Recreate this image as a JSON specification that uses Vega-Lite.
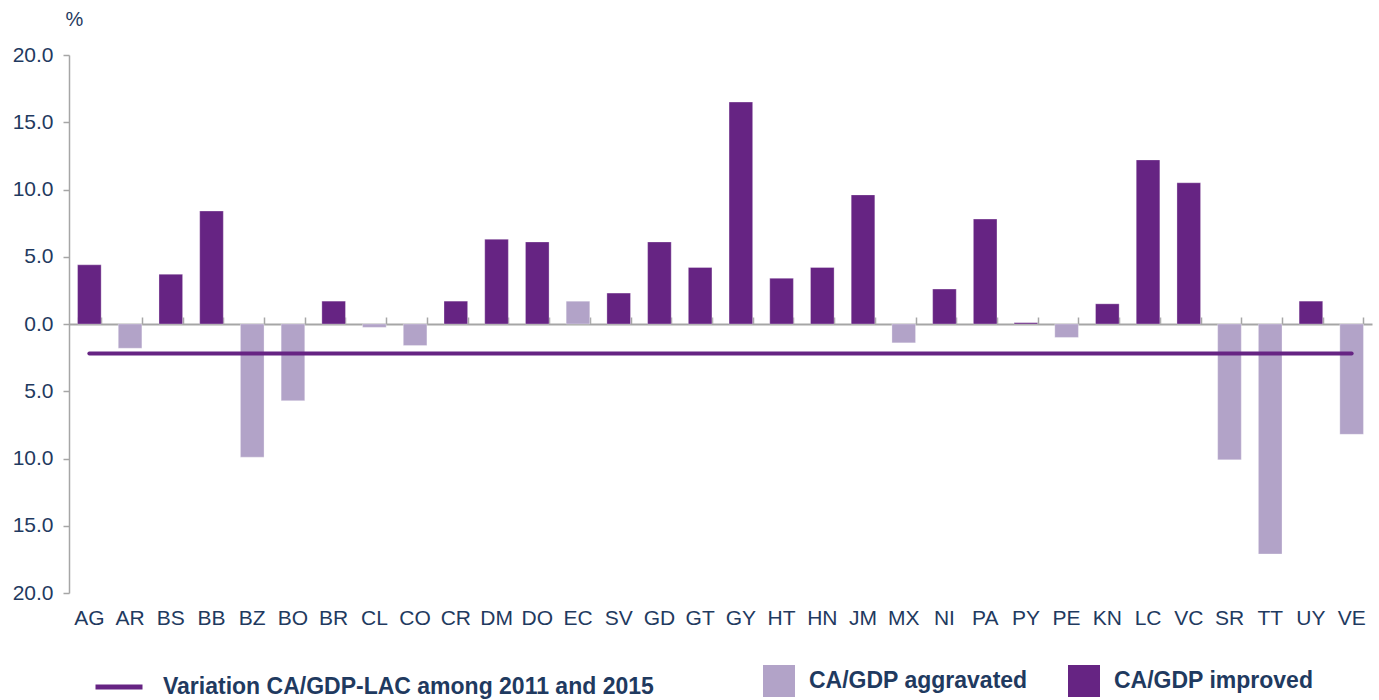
{
  "$schema": "https://vega.github.io/schema/vega-lite/v6.json",
  "autosize": {"type": "none"},
  "padding": {"left": 69, "top": 55, "right": 7, "bottom": 107},
  "width": 1303,
  "height": 538,
  "background": "white",
  "config": {
    "view": {"stroke": null},
    "font": "Liberation Sans",
    "axis": {"labelFont": "Liberation Sans", "labelColor": "#1f3a60", "grid": false}
  },
  "data": {
    "values": [
      {"country": "AG", "value": 4.4, "status": "CA/GDP improved", "lac": -2.2},
      {"country": "AR", "value": -1.8, "status": "CA/GDP aggravated", "lac": -2.2},
      {"country": "BS", "value": 3.7, "status": "CA/GDP improved", "lac": -2.2},
      {"country": "BB", "value": 8.4, "status": "CA/GDP improved", "lac": -2.2},
      {"country": "BZ", "value": -9.9, "status": "CA/GDP aggravated", "lac": -2.2},
      {"country": "BO", "value": -5.7, "status": "CA/GDP aggravated", "lac": -2.2},
      {"country": "BR", "value": 1.7, "status": "CA/GDP improved", "lac": -2.2},
      {"country": "CL", "value": -0.25, "status": "CA/GDP aggravated", "lac": -2.2},
      {"country": "CO", "value": -1.6, "status": "CA/GDP aggravated", "lac": -2.2},
      {"country": "CR", "value": 1.7, "status": "CA/GDP improved", "lac": -2.2},
      {"country": "DM", "value": 6.3, "status": "CA/GDP improved", "lac": -2.2},
      {"country": "DO", "value": 6.1, "status": "CA/GDP improved", "lac": -2.2},
      {"country": "EC", "value": 1.7, "status": "CA/GDP aggravated", "lac": -2.2},
      {"country": "SV", "value": 2.3, "status": "CA/GDP improved", "lac": -2.2},
      {"country": "GD", "value": 6.1, "status": "CA/GDP improved", "lac": -2.2},
      {"country": "GT", "value": 4.2, "status": "CA/GDP improved", "lac": -2.2},
      {"country": "GY", "value": 16.5, "status": "CA/GDP improved", "lac": -2.2},
      {"country": "HT", "value": 3.4, "status": "CA/GDP improved", "lac": -2.2},
      {"country": "HN", "value": 4.2, "status": "CA/GDP improved", "lac": -2.2},
      {"country": "JM", "value": 9.6, "status": "CA/GDP improved", "lac": -2.2},
      {"country": "MX", "value": -1.4, "status": "CA/GDP aggravated", "lac": -2.2},
      {"country": "NI", "value": 2.6, "status": "CA/GDP improved", "lac": -2.2},
      {"country": "PA", "value": 7.8, "status": "CA/GDP improved", "lac": -2.2},
      {"country": "PY", "value": 0.1, "status": "CA/GDP improved", "lac": -2.2},
      {"country": "PE", "value": -1.0, "status": "CA/GDP aggravated", "lac": -2.2},
      {"country": "KN", "value": 1.5, "status": "CA/GDP improved", "lac": -2.2},
      {"country": "LC", "value": 12.2, "status": "CA/GDP improved", "lac": -2.2},
      {"country": "VC", "value": 10.5, "status": "CA/GDP improved", "lac": -2.2},
      {"country": "SR", "value": -10.1, "status": "CA/GDP aggravated", "lac": -2.2},
      {"country": "TT", "value": -17.1, "status": "CA/GDP aggravated", "lac": -2.2},
      {"country": "UY", "value": 1.7, "status": "CA/GDP improved", "lac": -2.2},
      {"country": "VE", "value": -8.2, "status": "CA/GDP aggravated", "lac": -2.2}
    ]
  },
  "resolve": {"axis": {"x": "independent"}},
  "layer": [
    {
      "mark": {"type": "bar", "stroke": "#ffffff", "strokeWidth": 0.5, "strokeOpacity": 0.6},
      "encoding": {
        "x": {
          "field": "country", "type": "nominal", "sort": null,
          "scale": {"paddingInner": 0.42, "paddingOuter": 0.21},
          "axis": {"title": null, "domain": false, "ticks": false, "labelAngle": 0, "labelFontSize": 21, "labelPadding": 14}
        },
        "y": {
          "field": "value", "type": "quantitative",
          "scale": {"domain": [-20, 20], "nice": false, "zero": false},
          "axis": {
            "values": [-20, -15, -10, -5, 0, 5, 10, 15, 20],
            "labelExpr": "format(abs(datum.value), '.1f')",
            "labelFontSize": 21, "labelPadding": 10,
            "domainColor": "#a6a6a6", "domainWidth": 1.5,
            "tickColor": "#a6a6a6", "tickSize": 6, "tickWidth": 1.5,
            "title": "%", "titleAngle": 0, "titleAlign": "left", "titleBaseline": "bottom",
            "titleX": -4, "titleY": -26, "titleFontSize": 20, "titleFontWeight": "normal", "titleColor": "#1f3a60", "titleFont": "Liberation Sans"
          }
        },
        "fill": {
          "field": "status", "type": "nominal",
          "scale": {"domain": ["CA/GDP aggravated", "CA/GDP improved"], "range": ["#b2a3c8", "#662483"]},
          "legend": {
            "title": null, "orient": "none", "direction": "horizontal",
            "legendX": 694, "legendY": 610,
            "symbolType": "square", "symbolSize": 1024, "symbolStrokeWidth": 0,
            "labelFont": "Liberation Sans", "labelFontWeight": "bold", "labelFontSize": 23, "labelColor": "#1f3a60",
            "labelOffset": 14, "columnPadding": 40, "labelLimit": 400, "padding": 0
          }
        }
      }
    },
    {
      "mark": {"type": "line", "strokeWidth": 4, "strokeCap": "round"},
      "encoding": {
        "x": {
          "field": "country", "type": "nominal", "sort": null,
          "axis": {"title": null, "labels": false, "offset": -269, "domainColor": "#a6a6a6", "domainWidth": 2,
                   "tickBand": "extent", "tickColor": "#a6a6a6", "tickSize": 7, "tickWidth": 1.5}
        },
        "y": {"field": "lac", "type": "quantitative"},
        "stroke": {
          "datum": "Variation CA/GDP-LAC  among 2011 and 2015",
          "scale": {"range": ["#662483"]},
          "legend": {
            "title": null, "orient": "none", "legendX": 24, "legendY": 606,
            "symbolType": "stroke", "symbolSize": 2209, "symbolStrokeWidth": 5,
            "labelFont": "Liberation Sans", "labelFontWeight": "bold", "labelFontSize": 23, "labelColor": "#1f3a60",
            "labelOffset": 18, "labelLimit": 700, "padding": 0
          }
        }
      }
    }
  ]
}
